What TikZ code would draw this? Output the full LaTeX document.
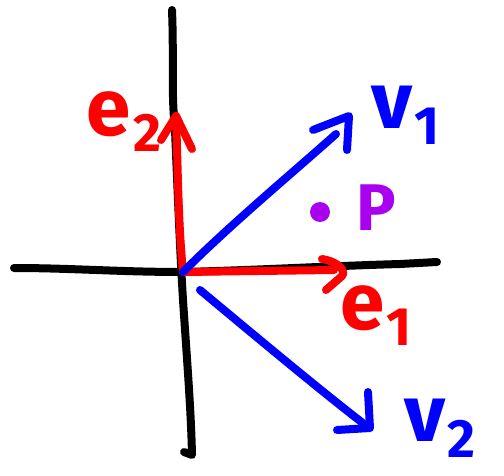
\documentclass[tikz,border=0pt]{standalone}
\usepackage{fontspec}
\setmainfont{Fira Sans}
\definecolor{penred}{RGB}{255,0,0}
\definecolor{penblue}{RGB}{0,0,255}
\definecolor{penpurple}{RGB}{170,0,240}
\newcommand{\sublbl}[2]{\fontsize{80}{80}\selectfont #1\kern2pt\raisebox{-16pt}{\fontsize{54}{54}\selectfont #2}}
\tikzset{
  pen/.style={line width=8pt, line cap=round, line join=round},
  lbl/.style={inner sep=0pt, font=\bfseries}
}
\begin{document}
\begin{tikzpicture}[x=1pt,y=-1pt]
\useasboundingbox[fill=white] (0,0) rectangle (504,476);
% coordinates
\coordinate (O) at (183,272);
\coordinate (ytop) at (172,10);
\coordinate (ybot) at (192,455);
\coordinate (xl) at (14,268);
\coordinate (xr) at (437,262);
\coordinate (e2tip) at (176,116);
\coordinate (e1tip) at (334,270);
\coordinate (v1tip) at (336,134);
\coordinate (v2start) at (200,290);
\coordinate (v2tip) at (364,424);
% axes
\draw[pen, black] (ytop) .. controls (174,60) and (171,90) .. (175,130)
  .. controls (178,200) and (180,250) .. (183,300)
  .. controls (187,360) and (191,410) .. (ybot) -- (184,452);
\draw[pen, black] (xl) .. controls (70,268) and (120,272) .. (O)
  .. controls (260,270) and (330,266) .. (400,264) -- (xr);
% red e2
\draw[pen, penred] (O) .. controls (178,220) and (178,170) .. (e2tip);
\draw[pen, penred] (161,140) -- (e2tip) -- (192,149);
% red e1
\draw[pen, penred] (O) -- (e1tip);
\draw[pen, penred] (322,259) .. controls (340,262) and (346,272) .. (342,276) -- (326,290);
% blue v1
\draw[pen, penblue] (O) .. controls (230,225) and (290,175) .. (v1tip);
\draw[pen, penblue] (313,130) -- (349,116) -- (347,150);
% blue v2
\draw[pen, penblue] (v2start) .. controls (260,340) and (320,390) .. (v2tip);
\draw[pen, penblue] (368,392) -- (370,428) -- (337,430);
% point P
\fill[penpurple] (320,212) circle[radius=10pt];
\coordinate (pdot) at (320,212);
% labels
\node[lbl, text=penred] (e2lbl) at (124,122) {\sublbl{e}{2}};
\node[lbl, text=penred] (e1lbl) at (376,316) {\sublbl{e}{1}};
\node[lbl, text=penblue] (v1lbl) at (406,115) {\sublbl{v}{1}};
\node[lbl, text=penblue] (v2lbl) at (440,428) {\sublbl{v}{2}};
\node[lbl, text=penpurple, font=\bfseries\fontsize{66}{66}\selectfont] (plbl) at (376,208) {P};
\end{tikzpicture}
\end{document}
